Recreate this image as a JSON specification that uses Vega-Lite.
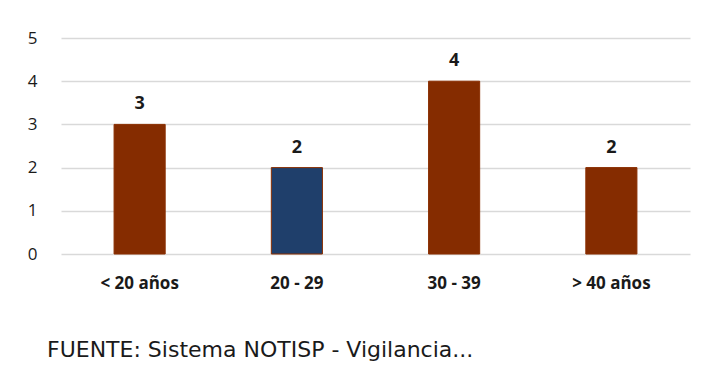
{
  "$schema": "https://vega.github.io/schema/vega-lite/v6.json",
  "width": 629,
  "height": 216,
  "autosize": {"type": "none"},
  "padding": {"left": 61, "top": 38, "right": 21, "bottom": 115},
  "background": "white",
  "config": {"view": {"stroke": null}, "font": "Open Sans"},
  "title": {
    "text": "FUENTE: Sistema NOTISP - Vigilancia...",
    "orient": "bottom",
    "anchor": "start",
    "frame": "group",
    "dx": -14,
    "offset": 49,
    "fontSize": 22,
    "fontWeight": "normal",
    "font": "DejaVu Sans",
    "color": "#1a1a1a"
  },
  "data": {
    "values": [
      {"edad": "< 20 años", "casos": 3},
      {"edad": "20 - 29", "casos": 2},
      {"edad": "30 - 39", "casos": 4},
      {"edad": "> 40 años", "casos": 2}
    ]
  },
  "encoding": {
    "x": {
      "field": "edad",
      "type": "nominal",
      "sort": null,
      "scale": {"paddingInner": 0.675, "paddingOuter": 0.3375},
      "axis": {
        "title": null,
        "labelAngle": 0,
        "ticks": false,
        "domain": false,
        "labelPadding": 21,
        "labelFontSize": 17,
        "labelFontWeight": "bold",
        "labelColor": "#1a1a1a",
        "labelFont": "Open Sans"
      }
    },
    "y": {
      "field": "casos",
      "type": "quantitative",
      "scale": {"domain": [0, 5], "nice": false},
      "axis": {
        "title": null,
        "values": [0, 1, 2, 3, 4, 5],
        "grid": true,
        "gridColor": "#d9d9d9",
        "gridWidth": 1.5,
        "domain": false,
        "ticks": false,
        "labelPadding": 24,
        "labelFontSize": 17,
        "labelColor": "#1a1a1a",
        "labelFont": "Open Sans"
      }
    }
  },
  "layer": [
    {
      "mark": {"type": "bar", "stroke": "#8a2e00", "strokeWidth": 1},
      "encoding": {
        "color": {
          "field": "edad",
          "type": "nominal",
          "legend": null,
          "scale": {
            "domain": ["< 20 años", "20 - 29", "30 - 39", "> 40 años"],
            "range": ["#852c00", "#1f3f6b", "#852c00", "#852c00"]
          }
        }
      }
    },
    {
      "mark": {
        "type": "text",
        "baseline": "alphabetic",
        "dy": -15,
        "fontSize": 18,
        "fontWeight": "bold",
        "font": "Open Sans",
        "color": "#1a1a1a"
      },
      "encoding": {"text": {"field": "casos", "type": "quantitative"}}
    }
  ]
}
